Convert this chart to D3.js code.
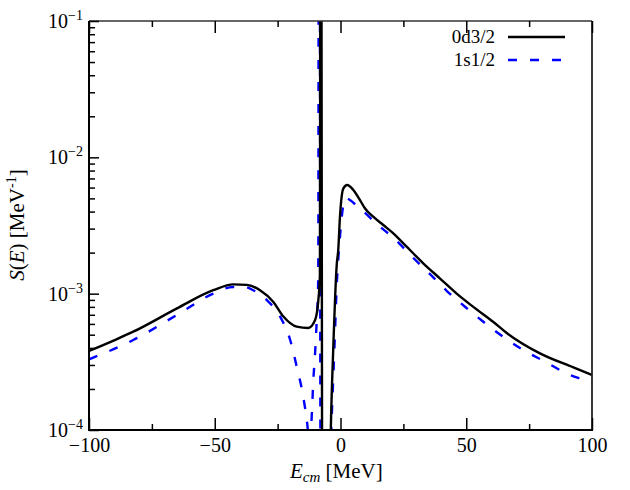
<!DOCTYPE html>
<html>
<head>
<meta charset="utf-8">
<script src="https://cdn.jsdelivr.net/npm/d3@7"></script>
<style>
  body { margin: 0; background: #fff; }
  svg text { font-family: "Liberation Serif", "Times New Roman", serif !important; fill: #000; }
</style>
</head>
<body>
<svg id="chart" width="630" height="490"></svg>
<script>
// ---- data ----
const energy0d = [-100, -90, -82.4, -65, -50.6, -42.6, -37.3, -32, -26.7, -22.7, -17.4, -12.8, -10.1, -8.8, -8.2, -8.0, -7.6, -7.3, -5.5, -3.8, -2.9, -1.5, -0.9, -0.2, 1.1, 2.7, 5.1, 7.75, 9.7, 13.0, 17.0, 21.0, 26.3, 32.9, 39.6, 46.2, 52.8, 60.8, 66.1, 79.3, 92.6, 100];
const s0d = [3.8e-4, 4.55e-4, 5.26e-4, 7.8e-4, 1.06e-3, 1.17e-3, 1.16e-3, 1.06e-3, 8.7e-4, 6.8e-4, 5.73e-4, 5.6e-4, 6.4e-4, 9.0e-4, 1.35e-3, 0.5, 0.5, 3e-5, 1e-6, 1.12e-4, 3.86e-4, 1.63e-3, 2.09e-3, 3.7e-3, 5.9e-3, 6.27e-3, 5.76e-3, 4.86e-3, 4.23e-3, 3.67e-3, 3.19e-3, 2.77e-3, 2.21e-3, 1.67e-3, 1.29e-3, 1.0e-3, 8.0e-4, 6.2e-4, 5.15e-4, 3.65e-4, 2.88e-4, 2.53e-4];

const energy1s = [-100, -82.4, -65.1, -50.6, -42.6, -38, -34.7, -29.3, -24, -20, -17.4, -14.8, -13.2, -12.4, -11.5, -10.8, -10.1, -9.5, -8.85, -8.65, -8.25, -7.9, -5.5, -3.5, -2.86, -2.19, -1.5, -0.9, -0.2, 1.1, 1.8, 7.0, 14.4, 21.7, 28.3, 35.6, 42.2, 49.5, 56.8, 64.7, 72.7, 81.3, 89.9, 98.5, 100];
const s1s = [3.3e-4, 4.57e-4, 6.97e-4, 1.0e-3, 1.12e-3, 1.12e-3, 1.06e-3, 8.97e-4, 6.78e-4, 4.57e-4, 2.91e-4, 1.75e-4, 1.1e-4, 8e-5, 1.2e-4, 2.33e-4, 3.67e-4, 6.1e-4, 1.3e-3, 0.5, 0.5, 1e-5, 1e-6, 1.2e-4, 2.45e-4, 5.14e-4, 1.15e-3, 1.77e-3, 2.62e-3, 4.47e-3, 5.03e-3, 4.33e-3, 3.25e-3, 2.5e-3, 1.88e-3, 1.39e-3, 1.05e-3, 8.02e-4, 6.22e-4, 4.83e-4, 3.86e-4, 3.17e-4, 2.6e-4, 2.26e-4, 2.2e-4];

const seriesNames = ["0d3/2", "1s1/2"];
const xTickValues = [-100, -50, 0, 50, 100];
const xMinorTicks = [-75, -25, 25, 75];
const yDecades = [1e-4, 1e-3, 1e-2, 1e-1];
const yExponents = ["\u22124", "\u22123", "\u22122", "\u22121"];

// ---- layout ----
const FONT = '"Liberation Serif", "Times New Roman", serif';
const L = 89, R = 592, T = 21, B = 430;
const svg = d3.select("#chart");
const x = d3.scaleLinear().domain([-100, 100]).range([L, R]);
const y = d3.scaleLog().domain([1e-4, 1e-1]).range([B, T]);

svg.append("defs").append("clipPath").attr("id", "clip")
  .append("rect").attr("x", L).attr("y", T).attr("width", R - L).attr("height", B - T);

const line = d3.line().x(d => x(d[0])).y(d => y(d[1])).curve(d3.curveMonotoneX);
const d0 = energy0d.map((e, i) => [e, s0d[i]]);
const d1 = energy1s.map((e, i) => [e, s1s[i]]);

const plot = svg.append("g").attr("clip-path", "url(#clip)");
plot.append("path").datum(d1).attr("d", line)
  .attr("fill", "none").attr("stroke", "#0000ff").attr("stroke-width", 2.4)
  .attr("stroke-dasharray", "9,13");
plot.append("path").datum(d0).attr("d", line)
  .attr("fill", "none").attr("stroke", "#000").attr("stroke-width", 2.4)
  .attr("stroke-linejoin", "round");

// ---- frame ----
svg.append("line").attr("x1", L).attr("x2", R).attr("y1", T).attr("y2", T).attr("stroke", "#333").attr("stroke-width", 1.5);
svg.append("line").attr("x1", R).attr("x2", R).attr("y1", T).attr("y2", B).attr("stroke", "#222").attr("stroke-width", 1.8);
svg.append("line").attr("x1", L).attr("x2", L).attr("y1", T).attr("y2", B + 1).attr("stroke", "#000").attr("stroke-width", 2);
svg.append("line").attr("x1", L - 1).attr("x2", R + 1).attr("y1", B).attr("y2", B).attr("stroke", "#000").attr("stroke-width", 2);

// ---- x ticks ----
const xAxisBottom = d3.axisBottom(x).tickValues(xTickValues).tickSize(-12).tickPadding(10)
  .tickFormat(d => d < 0 ? "\u2212" + Math.abs(d) : String(d));
const gx = svg.append("g").attr("transform", `translate(0,${B})`).call(xAxisBottom)
  .attr("font-family", FONT);
gx.select(".domain").remove();
gx.selectAll(".tick line").attr("stroke", "#000").attr("stroke-width", 1.5);
gx.selectAll(".tick text").attr("font-size", 20).attr("y", 22).attr("dy", 0)
  .attr("font-family", FONT);

const gxm = svg.append("g").attr("transform", `translate(0,${B})`)
  .call(d3.axisBottom(x).tickValues(xMinorTicks).tickSize(-6).tickFormat(""));
gxm.select(".domain").remove();
gxm.selectAll(".tick line").attr("stroke", "#000").attr("stroke-width", 1.5);

// top ticks
const gxt = svg.append("g").attr("transform", `translate(0,${T})`)
  .call(d3.axisTop(x).tickValues(xTickValues).tickSize(-12).tickFormat(""));
gxt.select(".domain").remove();
gxt.selectAll(".tick line").attr("stroke", "#000").attr("stroke-width", 1.5);
const gxtm = svg.append("g").attr("transform", `translate(0,${T})`)
  .call(d3.axisTop(x).tickValues(xMinorTicks).tickSize(-6).tickFormat(""));
gxtm.select(".domain").remove();
gxtm.selectAll(".tick line").attr("stroke", "#000").attr("stroke-width", 1.5);

// ---- y ticks ----
const gy = svg.append("g").attr("transform", `translate(${L},0)`)
  .call(d3.axisLeft(y).tickValues(yDecades).tickSize(-10).tickFormat(""));
gy.select(".domain").remove();
gy.selectAll(".tick line").attr("stroke", "#000").attr("stroke-width", 1.5);

const minorY = [];
[1e-4, 1e-3, 1e-2].forEach(dd => { for (let k = 2; k <= 9; k++) minorY.push(dd * k); });
const gym = svg.append("g").attr("transform", `translate(${L},0)`)
  .call(d3.axisLeft(y).tickValues(minorY).tickSize(-6).tickFormat(""));
gym.select(".domain").remove();
gym.selectAll(".tick line").attr("stroke", "#000").attr("stroke-width", 1.5);

// y tick labels with superscripts
yDecades.forEach((v, i) => {
  const t = svg.append("text").attr("x", 83).attr("y", y(v) + 7)
    .attr("text-anchor", "end").attr("font-size", 20).attr("font-family", FONT);
  t.append("tspan").text("10");
  t.append("tspan").attr("font-size", 14).attr("dy", -8).text(yExponents[i]);
});

// ---- axis labels ----
const xl = svg.append("text").attr("x", 290).attr("y", 478).attr("font-size", 21).attr("font-family", FONT);
xl.append("tspan").attr("font-style", "italic").text("E");
xl.append("tspan").attr("font-style", "italic").attr("font-size", 15).attr("dy", 4).text("cm");
xl.append("tspan").attr("dy", -4).text(" [MeV]");

const yl = svg.append("text").attr("transform", "translate(24,225) rotate(-90)")
  .attr("text-anchor", "middle").attr("font-size", 21).attr("font-family", FONT);
yl.append("tspan").attr("font-style", "italic").text("S");
yl.append("tspan").text("(");
yl.append("tspan").attr("font-style", "italic").text("E");
yl.append("tspan").text(")  [MeV");
yl.append("tspan").attr("font-size", 14).attr("dy", -8).text("-1");
yl.append("tspan").attr("dy", 8).text("]");

// ---- legend ----
const legendY = [37, 60];
const legendStyles = [
  { stroke: "#000", dash: null },
  { stroke: "#0000ff", dash: "9,13" }
];
seriesNames.forEach((name, i) => {
  svg.append("text").attr("x", 495).attr("y", legendY[i] + 6)
    .attr("text-anchor", "end").attr("font-size", 19).attr("font-family", FONT).text(name);
  const ln = svg.append("line").attr("x1", 508).attr("x2", 565)
    .attr("y1", legendY[i]).attr("y2", legendY[i])
    .attr("stroke", legendStyles[i].stroke).attr("stroke-width", 2.4);
  if (legendStyles[i].dash) ln.attr("stroke-dasharray", legendStyles[i].dash);
});
</script>
</body>
</html>
